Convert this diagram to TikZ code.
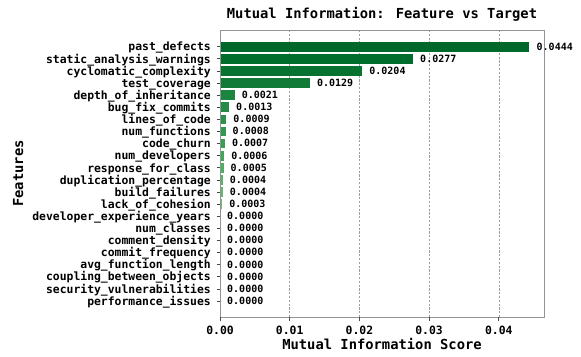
\documentclass[tikz,border=0pt]{standalone}
\usepackage{fontspec}
\newfontfamily\dvm{DejaVu Sans Mono}
\begin{document}
\begin{tikzpicture}[x=1bp,y=-1bp,
  ticklab/.style={font=\dvm\bfseries\fontsize{11.4bp}{13bp}\selectfont, inner sep=0pt},
  vallab/.style={font=\dvm\bfseries\fontsize{10bp}{12bp}\selectfont, inner sep=0pt, anchor=base west},
  axlab/.style={font=\dvm\bfseries\fontsize{13.8bp}{16bp}\selectfont, inner sep=0pt},
  gridln/.style={draw=gray!75, line width=0.6bp, dash pattern=on 2.2bp off 1.6bp},
  frame/.style={draw=gray!85, line width=0.9bp},
  tickmark/.style={draw=black!70, line width=0.8bp}]
\useasboundingbox (0,0) rectangle (581,356);
% grid
\foreach \k in {1,2,3,4}{
  \coordinate (gt\k) at (220+\k*69.7,30);
  \coordinate (gb\k) at (220+\k*69.7,317);
  \draw[gridln] (gt\k) -- (gb\k);
}
% bars and labels
\foreach \v/\c/\n [count=\i from 0] in {
  0.0444/00682A/past\_defects,
  0.0277/006D2C/static\_analysis\_warnings,
  0.0204/087230/cyclomatic\_complexity,
  0.0129/117A37/test\_coverage,
  0.0021/1B843F/depth\_of\_inheritance,
  0.0013/238B45/bug\_fix\_commits,
  0.0009/2A924A/lines\_of\_code,
  0.0008/319A50/num\_functions,
  0.0007/37A055/code\_churn,
  0.0006/40A75B/num\_developers,
  0.0005/4BB062/response\_for\_class,
  0.0004/56B567/duplication\_percentage,
  0.0004/60BA6C/build\_failures,
  0.0003/6BBE71/lack\_of\_cohesion,
  0.0000/74C476/developer\_experience\_years,
  0.0000/74C476/num\_classes,
  0.0000/74C476/comment\_density,
  0.0000/74C476/commit\_frequency,
  0.0000/74C476/avg\_function\_length,
  0.0000/74C476/coupling\_between\_objects,
  0.0000/74C476/security\_vulnerabilities,
  0.0000/74C476/performance\_issues}{
  \pgfmathsetmacro{\yy}{46.7+\i*12.11}
  \pgfmathsetmacro{\xe}{220+\v*6970}
  \definecolor{barc}{HTML}{\c}
  \ifnum\i<14
    \fill[barc] (220,\yy-4.85) rectangle (\xe,\yy+4.85);
  \fi
  \node[vallab] (val\i) at (\xe+7,\yy+3.4) {\v};
  \coordinate (tk\i) at (216.5,\yy);
  \coordinate (ta\i) at (220,\yy);
  \draw[tickmark] (tk\i) -- (ta\i);
  \node[ticklab, anchor=base east] (lab\i) at (211,\yy+4.2) {\n};
}
% frame
\coordinate (fa) at (220,30);
\coordinate (fb) at (544,317);
\draw[frame] (fa) rectangle (fb);
% x ticks
\foreach \k/\t in {0/0.00,1/0.01,2/0.02,3/0.03,4/0.04}{
  \coordinate (xt\k) at (220+\k*69.7,317);
  \coordinate (xb\k) at (220+\k*69.7,320.5);
  \draw[tickmark] (xt\k) -- (xb\k);
  \node[ticklab, anchor=base] (xl\k) at (220+\k*69.7,334) {\t};
}
% labels
\node[axlab, anchor=base] (xlabel) at (382,349.5) {Mutual Information Score};
\node[axlab, anchor=base, rotate=90] (ylabel) at (23,173.5) {Features};
\node[axlab, anchor=base] (title) at (382,18.3) {Mutual Information: Feature vs Target};
\end{tikzpicture}
\end{document}
